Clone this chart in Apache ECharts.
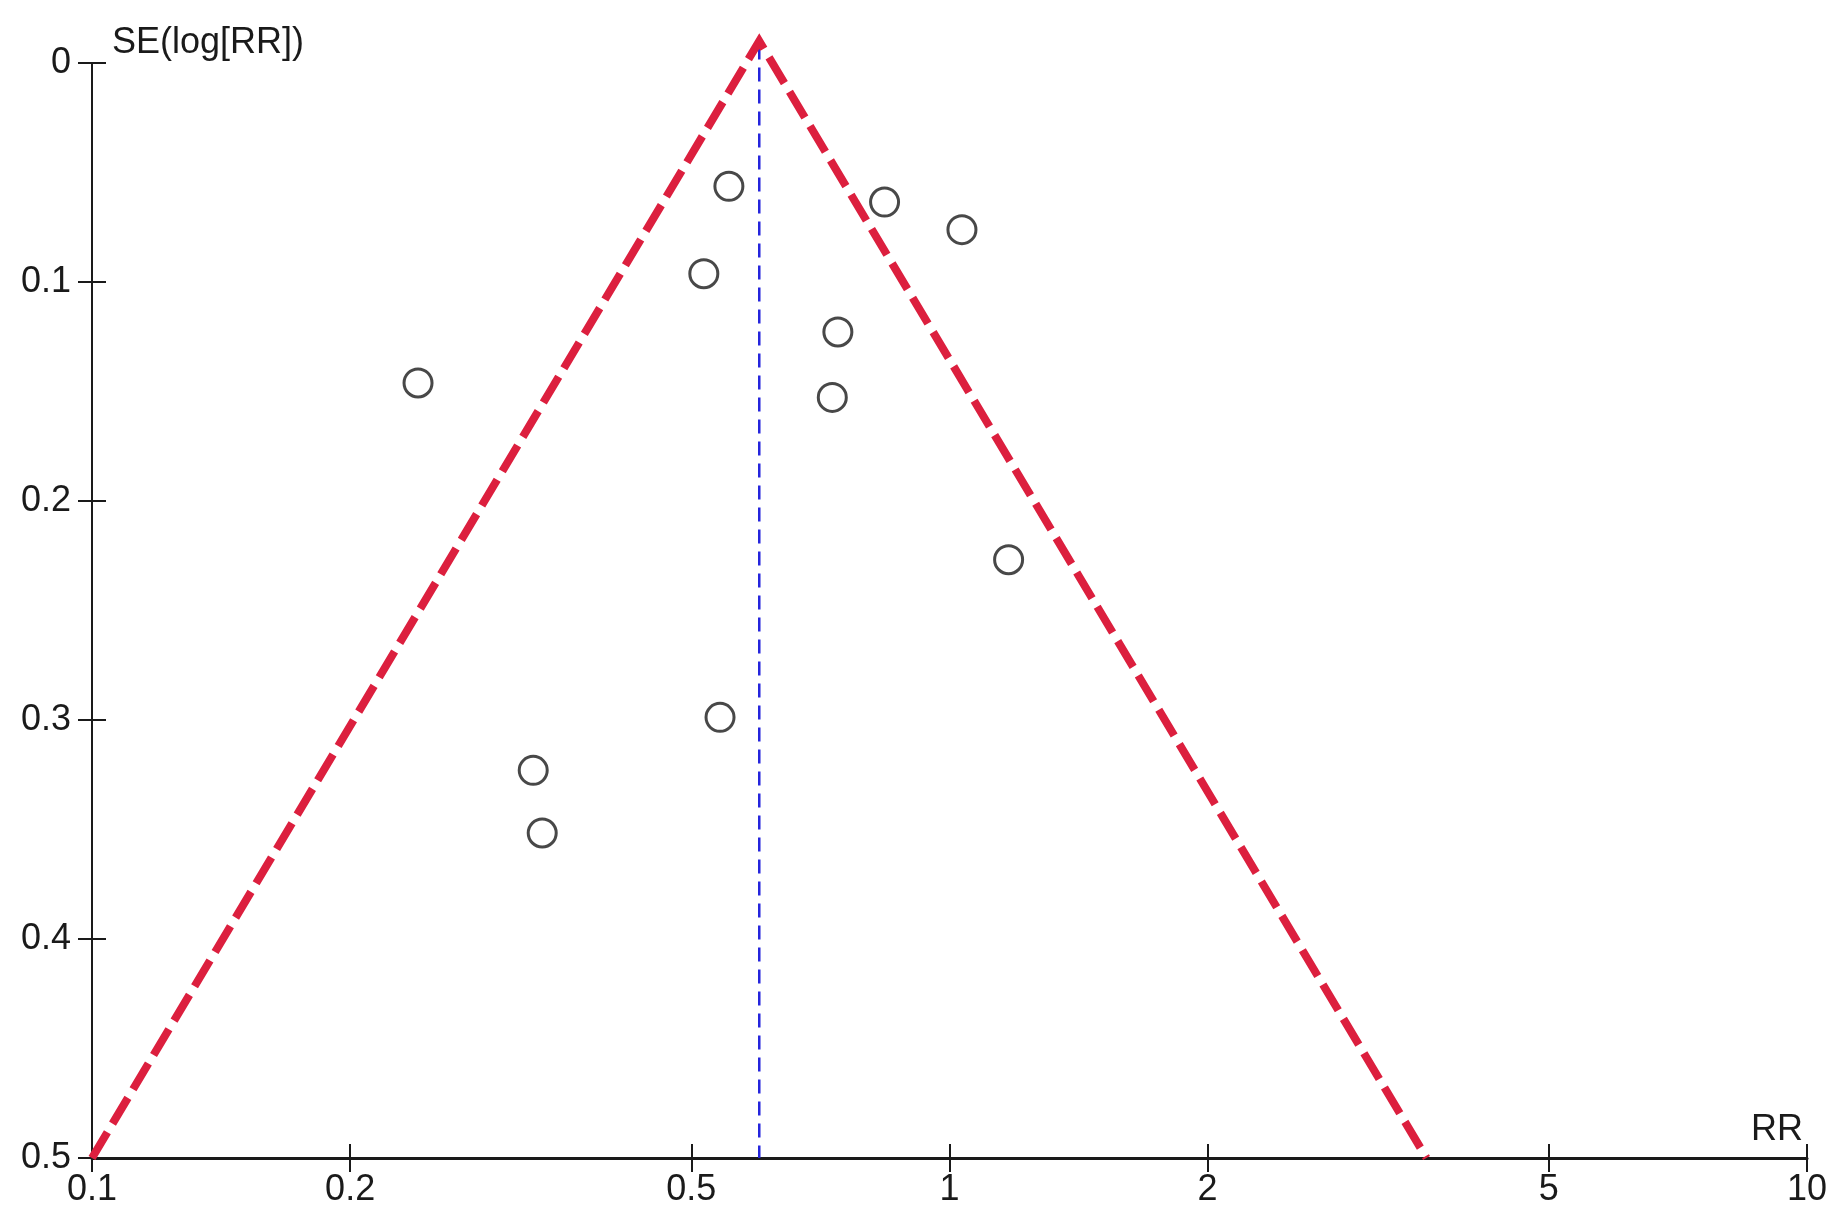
<!DOCTYPE html>
<html>
<head>
<meta charset="utf-8">
<title>Funnel plot</title>
<script src="https://cdn.jsdelivr.net/npm/echarts@6/dist/echarts.min.js"></script>
<style>
  html, body { margin: 0; padding: 0; background: #fff; }
  #chart { width: 1848px; height: 1224px; }
</style>
</head>
<body>
<div id="chart"></div>
<script>
  // study estimates (risk ratio) and their standard errors
  const studyRR = [0.553, 0.840, 1.034, 0.517, 0.741, 0.240, 0.730, 1.172, 0.540, 0.327, 0.335];
  const studySE = [0.0563, 0.0635, 0.0761, 0.0962, 0.1228, 0.1461, 0.1527, 0.2268, 0.2988, 0.323, 0.3516];

  // pooled estimate and funnel outline
  const pooledRR = 0.6;
  const pooledSE = [-0.008, 0.5];
  const funnelRR = [0.1, 0.6, 3.6];
  const funnelSE = [0.5, -0.01, 0.5];

  // axis ticks
  const xTicks = [0.1, 0.2, 0.5, 1, 2, 5, 10];

  const textColor = '#1a1a1a';
  const fontFamily = '"Liberation Sans", Arial, sans-serif';
  const fontSize = 36;

  const chart = echarts.init(document.getElementById('chart'));

  const xBase = {
    type: 'log',
    logBase: 10,
    min: 0.1,
    max: 10,
    position: 'bottom',
    splitLine: { show: false },
    axisTick: {
      customValues: xTicks,
      length: 14,
      lineStyle: { color: textColor, width: 2 },
    },
  };

  const yBase = {
    type: 'value',
    inverse: true,
    min: 0,
    max: 0.5,
    interval: 0.1,
    position: 'left',
    splitLine: { show: false },
    axisTick: {
      length: 14,
      lineStyle: { color: textColor, width: 2 },
    },
  };

  chart.setOption({
    backgroundColor: '#fff',
    animation: false,
    grid: {
      left: 92,
      right: 41,
      top: 63,
      bottom: 66,
      containLabel: false,
    },
    xAxis: [
      Object.assign({}, xBase, {
        name: 'RR',
        nameLocation: 'end',
        nameGap: -4,
        nameTextStyle: {
          color: textColor,
          fontFamily,
          fontSize,
          align: 'right',
          verticalAlign: 'bottom',
          padding: [0, 0, 10, 0],
        },
        axisLine: { show: true, onZero: false, lineStyle: { color: textColor, width: 3 } },
        axisLabel: {
          customValues: xTicks,
          margin: 14,
          color: textColor,
          fontFamily,
          fontSize,
          formatter: (v) => String(+Number(v).toPrecision(6)),
        },
      }),
      Object.assign({}, xBase, {
        axisLine: { show: false, onZero: false },
        axisLabel: { show: false },
        axisTick: Object.assign({}, xBase.axisTick, { inside: true }),
      }),
    ],
    yAxis: [
      Object.assign({}, yBase, {
        name: 'SE(log[RR])',
        nameLocation: 'start',
        nameGap: 20,
        nameTextStyle: {
          color: textColor,
          fontFamily,
          fontSize,
          align: 'left',
          verticalAlign: 'middle',
          padding: [0, 0, 0, 20],
        },
        axisLine: { show: true, onZero: false, lineStyle: { color: textColor, width: 2 } },
        axisLabel: {
          margin: 21,
          color: textColor,
          fontFamily,
          fontSize,
          formatter: (v) => String(+Number(v).toFixed(2)),
        },
      }),
      Object.assign({}, yBase, {
        axisLine: { show: false, onZero: false },
        axisLabel: { show: false },
        axisTick: Object.assign({}, yBase.axisTick, { inside: true }),
      }),
    ],
    series: [
      {
        name: 'Pooled',
        type: 'line',
        clip: false,
        symbol: 'none',
        z: 2,
        data: pooledSE.map((se) => [pooledRR, se]),
        lineStyle: { color: '#2424dc', width: 2.5, type: [14, 8] },
      },
      {
        name: 'Funnel',
        type: 'line',
        clip: false,
        symbol: 'none',
        z: 3,
        data: funnelRR.map((rr, i) => [rr, funnelSE[i]]),
        lineStyle: { color: '#dc1f3e', width: 8, type: [30, 10], join: 'miter' },
      },
      {
        name: 'Studies',
        type: 'scatter',
        z: 4,
        symbol: 'circle',
        symbolSize: 28,
        data: studyRR.map((rr, i) => [rr, studySE[i]]),
        itemStyle: {
          color: 'rgba(255,255,255,0)',
          borderColor: '#1a1a1a',
          borderWidth: 3,
        },
      },
    ],
  });
</script>
</body>
</html>
